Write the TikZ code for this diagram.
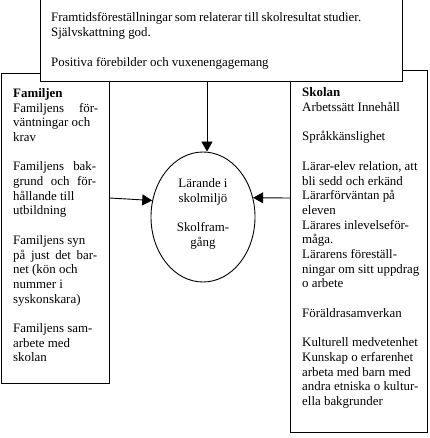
\documentclass[tikz,border=0pt]{standalone}
\usepackage{fontspec}
\setmainfont{Liberation Serif}
\usetikzlibrary{shapes.geometric,arrows.meta}

\tikzset{
  box/.style={draw, line width=0.9pt, fill=white, inner sep=0pt, anchor=north west},
  txt/.style={font=\fontsize{12.9}{14.7}\selectfont, align=left, inner sep=0pt, anchor=north west},
  arr/.style={line width=0.9pt, -{Triangle[length=10pt,width=11pt]}}
}
% justified line, as in the scanned text
\newcommand{\jline}[2]{\makebox[#1][s]{#2}}

\begin{document}
\begin{tikzpicture}[x=1pt,y=-1pt]
        % Define Variables
        \def\gap{14.7pt}
        \def\arrY{198}
        \useasboundingbox (0,0) rectangle (429,438);

        % Side Boxes
        \node[box, minimum width=108pt, minimum height=310pt] (familjen) at (1,73) {};
        \node[txt] (familjentext) at (13,88.2) {\textbf{Familjen}\\\jline{85pt}{Familjens för-}\\väntningar och\\krav\\[\gap]\jline{83pt}{Familjens bak-}\\\jline{83pt}{grund och för-}\\hållande till\\utbildning\\[\gap]Familjens syn\\\jline{84pt}{på just det bar-}\\net (kön och\\nummer i\\syskonskara)\\[\gap]Familjens sam-\\arbete med\\skolan};
        \node[box, minimum width=137pt, minimum height=362pt] (skolan) at (290,70) {};
        \node[txt] (skolantext) at (302,87.7) {\textbf{Skolan}\\Arbetssätt Innehåll\\[\gap]Språkkänslighet\\[\gap]Lärar-elev relation, att\\bli sedd och erkänd\\Lärarförväntan på\\eleven\\Lärares inlevelseför-\\måga.\\Lärarens föreställ-\\ningar om sitt uppdrag\\o arbete\\[\gap]Föräldrasamverkan\\[\gap]Kulturell medvetenhet\\Kunskap o erfarenhet\\arbeta med barn med\\andra etniska o kultur-\\ella bakgrunder};

        % Top Box
        \node[box, minimum width=362pt, minimum height=101pt] (framtid) at (40,-20) {};
        \node[txt] (framtidtext) at (51,12.7) {\jline{310pt}{Framtidsföreställningar som relaterar till skolresultat studier.}\\Självskattning god.\\[\gap]Positiva förebilder och vuxenengagemang};

        % Centre
        \node[draw, ellipse, line width=0.9pt, minimum width=104pt, minimum height=130pt, inner sep=0pt] (larande) at (203,217) {};
        \node[txt, anchor=center, align=center] (larandetext) at ([yshift=3pt]larande.center) {Lärande i\\skolmiljö\\[\gap]Skolfram-\\gång};

        % Arrows
        \draw[arr] (framtid.south -| 207,0) -- (207,0 |- larande.north);
        \draw[arr] (familjen.east |- 0,\arrY) -- (larande.162);
        \draw[arr] (skolan.west |- 0,\arrY) -- (larande.21);
\end{tikzpicture}
\end{document}
